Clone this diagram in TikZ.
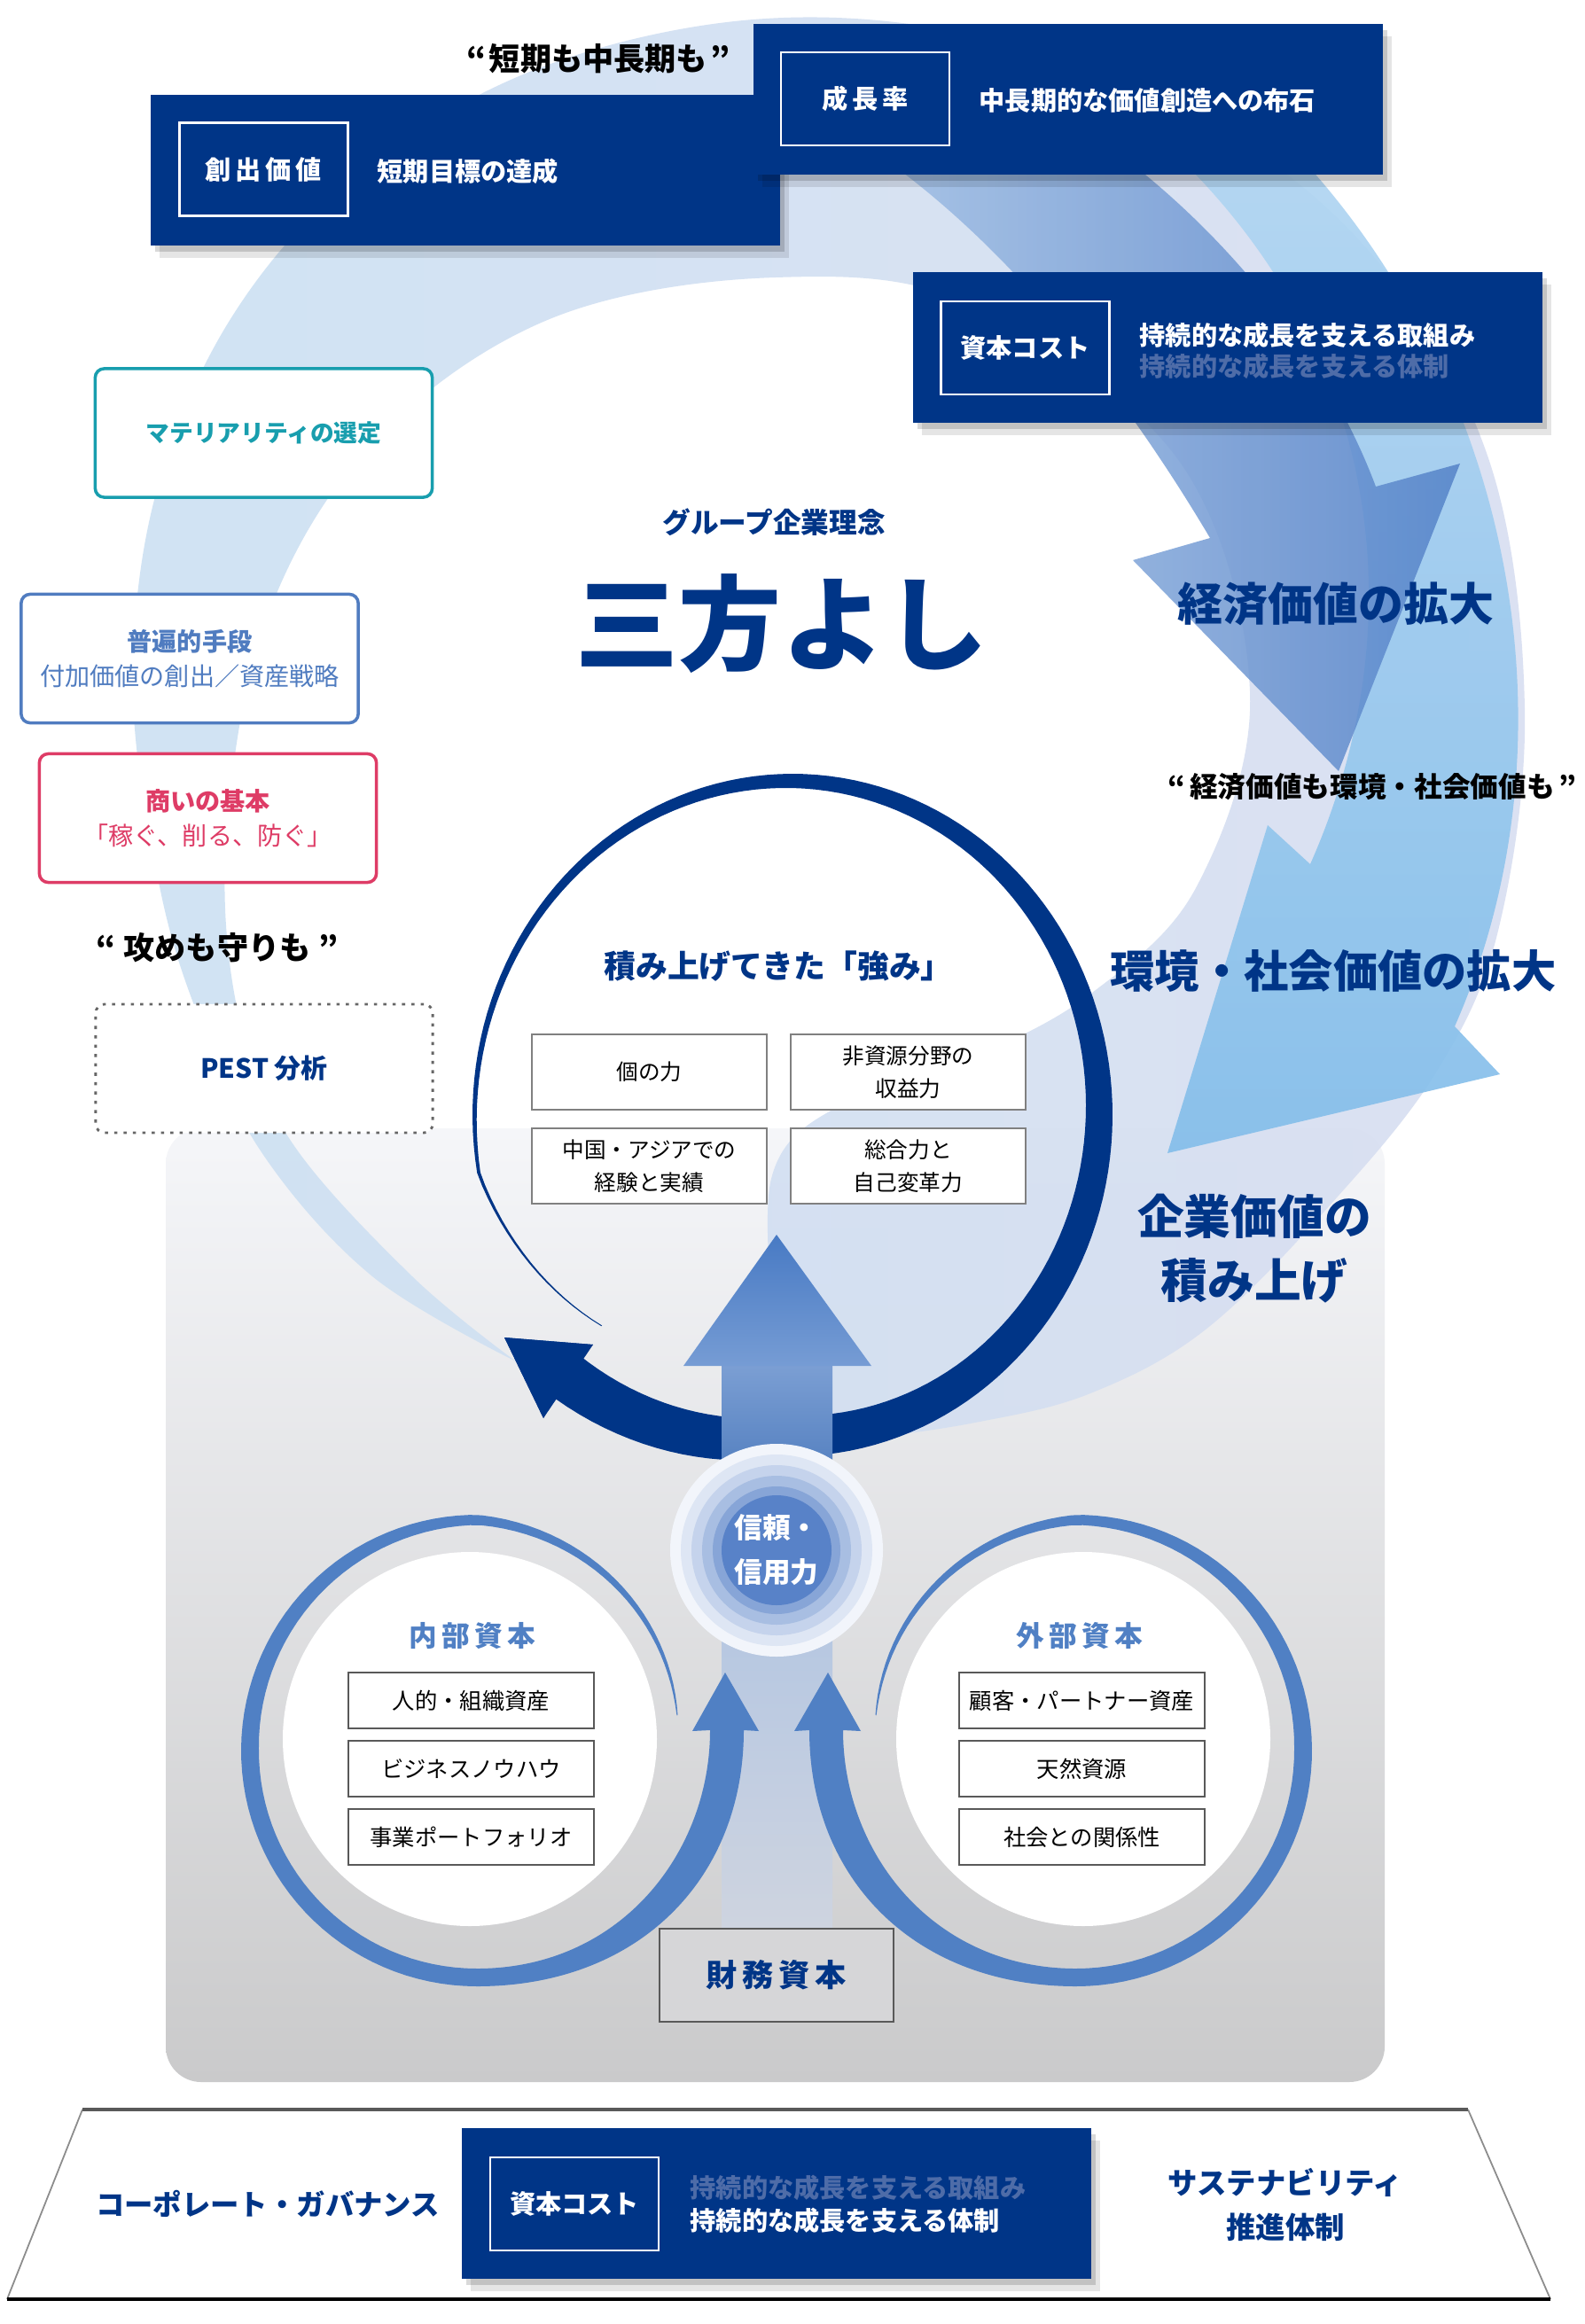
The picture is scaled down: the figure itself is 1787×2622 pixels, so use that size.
\documentclass[tikz,border=0pt]{standalone}
\usepackage{fontspec}
\setmainfont{Noto Sans CJK JP}
\usetikzlibrary{shadows}

\definecolor{navy}{RGB}{0,53,135}
\definecolor{dimtxt}{RGB}{78,108,168}
\definecolor{mattcol}{RGB}{24,158,174}
\definecolor{fuhencol}{RGB}{80,124,192}
\definecolor{akinaicol}{RGB}{222,60,102}
\definecolor{capblue}{RGB}{80,128,196}
\definecolor{trustblue}{RGB}{88,130,200}
\definecolor{paleleft}{RGB}{204,224,242}
\definecolor{paleright}{RGB}{216,222,241}
\definecolor{skytop}{RGB}{178,214,242}
\definecolor{skyarr}{RGB}{132,190,234}
\definecolor{midtail}{RGB}{170,198,232}
\definecolor{midarr}{RGB}{84,130,200}
\definecolor{boxtop}{RGB}{245,246,249}
\definecolor{boxbot}{RGB}{202,202,203}
\definecolor{upA}{RGB}{125,160,212}
\definecolor{upB}{RGB}{55,105,178}
\definecolor{upC}{RGB}{176,196,226}
\definecolor{upD}{RGB}{206,212,224}
\definecolor{upHeadT}{RGB}{72,122,196}
\definecolor{upHeadB}{RGB}{118,156,212}

\newcommand\jf[2]{\fontsize{#1}{#2}\selectfont}

\tikzset{
  navybox/.style={fill=navy, inner sep=0pt, minimum width=7.1cm, minimum height=1.7cm,
    drop shadow={shadow xshift=0.1cm, shadow yshift=-0.14cm, opacity=0.10, fill=black},
    drop shadow={shadow xshift=0.05cm, shadow yshift=-0.07cm, opacity=0.15, fill=black}},
  keybox/.style={draw=white, line width=0.8pt, text=white, inner sep=0pt,
    minimum width=1.9cm, minimum height=1.05cm, font=\bfseries\jf{8.3}{10}},
  keytxt/.style={anchor=west, text=white, inner sep=0pt, font=\bfseries\jf{8.3}{10}},
  sidebox/.style={rounded corners=0.1cm, line width=1pt, fill=white, inner sep=0pt,
    minimum width=3.8cm, minimum height=1.45cm, align=center},
  strbox/.style={draw=black!50, line width=0.5pt, fill=white, inner sep=0pt,
    minimum width=2.65cm, minimum height=0.85cm, align=center, font=\jf{7}{10.5}},
  capbox/.style={draw=black!65, line width=0.5pt, fill=white, inner sep=0pt,
    minimum width=2.77cm, minimum height=0.63cm, font=\jf{7.2}{9}},
  bigtxt/.style={text=navy, font=\bfseries\jf{14.5}{20.5}, align=center},
  quotetxt/.style={text=black, font=\bfseries\jf{9.5}{11}},
}

\begin{document}
\begin{tikzpicture}[x=0.01cm, y=-0.01cm,
  declare function={
    nf(\q)=1-0.14*max(0,(170-\q)/36)+0.12*max(0,(\q-450)/44);
    nw(\q)=1+45*pow(max(0.001,min(1,(\q-134)/316)),1.3)+10*max(0,(\q-450)/44);
    cr(\q)=266-36*max(0,(\q+90)/80);
    cw(\q)=1+19*pow(max(0.001,min(1,(-10-\q)/170)),0.8);}]
\useasboundingbox (0,0) rectangle (1787,2622);
\fill[white] (0,0) rectangle (1787,2622);

% grey base
\shade[top color=boxtop, bottom color=boxbot, rounded corners=0.4cm] (187,1273) rectangle (1562,2349);

% pale swirl
\shade[left color=paleleft, right color=paleright, opacity=0.9] plot[smooth, tension=0.6] coordinates {(582,1536) (420,1440) (295,1300) (225,1150) (180,1000) (150,780) (175,560) (260,360) (400,200) (600,80) (850,22) (1100,40) (1350,130) (1550,290) (1680,520) (1720,800) (1690,1050) (1620,1210) (1500,1360) (1360,1500) (1230,1572) (1100,1605) (960,1625) (880,1630)}
  -- plot[smooth, tension=0.6] coordinates {(880,1560) (870,1330) (960,1240) (1100,1192) (1232,1120) (1350,1000) (1410,780) (1330,520) (1100,345) (875,313) (620,360) (420,500) (300,700) (255,950) (270,1150) (330,1290) (465,1440) (582,1536)} -- cycle;

% arrows on the right
\shade[top color=skytop, bottom color=skyarr, opacity=0.92] (1300,150) .. controls (1560,380) and (1600,700) .. (1478,975) -- (1430,931) -- (1317,1301) -- (1692,1212) -- (1641,1158) .. controls (1790,820) and (1700,400) .. (1430,140) -- cycle;
\shade[left color=midtail, right color=midarr, opacity=0.85] (900,120) .. controls (1100,220) and (1260,430) .. (1365,607) -- (1278,632) -- (1510,870) -- (1647,523) -- (1552,549) .. controls (1470,330) and (1250,110) .. (1000,40) -- cycle;

% navy ring
\fill[navy] plot[domain=134:494, samples=160, variable=\q] ({894+361*nf(\q)*cos(\q)},{1258+385*nf(\q)*sin(\q)})
  -- (669,1517) -- (569,1509) -- (613,1600)
  -- plot[domain=494:134, samples=160, variable=\q] ({894+(361*nf(\q)-nw(\q))*cos(\q)},{1258+(385*nf(\q)-nw(\q))*sin(\q)}) -- cycle;
\fill[navy] (569,1509) -- (669,1517) -- (613,1600) -- cycle;

% upward arrow
\shade[top color=upA, bottom color=upB] (814,1535) rectangle (939,1749);
\shade[top color=upC, bottom color=upD] (814,1749) rectangle (939,2176);
\shade[top color=upHeadT, bottom color=upHeadB] (876,1393) -- (983,1541) -- (771,1541) -- cycle;

% trust circle
\coordinate (trust) at (876,1749);
\foreach \rad/\pc in {120/8, 108/20, 96/35, 84/52, 72/72, 62/100}
  \fill[trustblue!\pc!white] (trust) circle[radius=\rad];
\node[text=white, font=\bfseries\jf{9}{14.2}, align=left] (shinrai) at (trust) {信頼・\\信用力};

% capital rings
\foreach \m/\sh in {1/0,-1/1752}{
\begin{scope}[shift={(\sh,0)}, xscale=\m]
  \fill[white] (530,1962) circle[radius=211];
  \fill[capblue] plot[domain=-10:-270, samples=90, variable=\q] ({538+cr(\q)*cos(\q)},{1975+cr(\q)*sin(\q)})
    .. controls (720,2241) and (839,2120) .. (839,1952) -- (856,1953) -- (818,1887) -- (781,1953) -- (801,1952)
    .. controls (801,2090) and (700,2221) .. (538,2221)
    -- plot[domain=-270:-10, samples=90, variable=\q] ({538+(cr(\q)-cw(\q))*cos(\q)},{1975+(cr(\q)-cw(\q))*sin(\q)}) -- cycle;
\end{scope}}

% capital texts
\node[text=capblue, font=\bfseries\jf{9}{11}] (naibu) at (533,1846) {内\,部\,資\,本};
\node[text=capblue, font=\bfseries\jf{9}{11}] (gaibu) at (1218,1846) {外\,部\,資\,本};
\node[capbox] (jinteki) at (531.5,1918.5) {人的・組織資産};
\node[capbox] (knowhow) at (531.5,1995.5) {ビジネスノウハウ};
\node[capbox] (pf) at (531.5,2072.5) {事業ポートフォリオ};
\node[capbox] (kokyaku) at (1220.5,1918.5) {顧客・パートナー資産};
\node[capbox] (tennen) at (1220.5,1995.5) {天然資源};
\node[capbox] (shakai) at (1220.5,2072.5) {社会との関係性};
\node[draw=black!65, line width=0.5pt, fill={rgb,255:red,214;green,214;blue,216}, minimum width=2.64cm, minimum height=1.05cm, text=navy, font=\bfseries\jf{10}{12}] (zaimu) at (876,2228.5) {財\,務\,資\,本};

% top boxes
\node[navybox] (sozo) at (525,192) {};
\node[keybox] (sozokey) at (297.5,191) {創\,出\,価\,値};
\node[keytxt] (sozotxt) at (425,193) {短期目標の達成};
\node[navybox] (seicho) at (1205,112) {};
\node[keybox] (seichokey) at (976,111.5) {成\,長\,率};
\node[keytxt] (seichotxt) at (1104,113) {中長期的な価値創造への布石};
\node[quotetxt, font=\bfseries\jf{10}{12}] (tanki) at (675,66) {“\hspace{0.1em}短期も中長期も\hspace{0.1em}”};
\node[navybox] (cost) at (1385,392) {};
\node[keybox] (costkey) at (1156.5,392.5) {資本コスト};
\node[keytxt] (costtxt1) at (1285,378) {持続的な成長を支える取組み};
\node[keytxt, text=dimtxt] (costtxt2) at (1285,413) {持続的な成長を支える体制};

% left boxes
\node[sidebox, draw=mattcol, text=mattcol, font=\bfseries\jf{7.6}{10}] (matter) at (297.5,488.5) {マテリアリティの選定};
\node[sidebox, draw=fuhencol, text=fuhencol, font=\jf{8}{11}] (fuhen) at (214,743) {{\bfseries 普遍的手段}\\付加価値の創出／資産戦略};
\node[sidebox, draw=akinaicol, text=akinaicol, font=\jf{8}{11}] (akinai) at (234.5,923) {{\bfseries 商いの基本}\\「稼ぐ、削る、防ぐ」};
\node[quotetxt, font=\bfseries\jf{10}{12}] (semeru) at (245,1069) {“\hspace{0.25em}攻めも守りも\hspace{0.25em}”};
\node[sidebox, draw=black!60, dotted, line width=0.8pt, text=navy, font=\bfseries\jf{8.5}{10}] (pest) at (298,1205.5) {PEST 分析};

% centre
\node[text=navy, font=\bfseries\jf{9}{11}] (rinen) at (873,589) {グループ企業理念};
\node[text=navy, font=\bfseries\jf{33}{36}] (sanpo) at (882,704) {三方よし};
\node[text=navy, font=\bfseries\jf{10.2}{12}] (tsuyomi) at (878,1090) {積み上げてきた「強み」};
\node[strbox] (ko) at (732.5,1209.5) {個の力};
\node[strbox] (hishigen) at (1024.5,1209.5) {非資源分野の\\収益力};
\node[strbox] (asia) at (732.5,1315.5) {中国・アジアでの\\経験と実績};
\node[strbox] (sogo) at (1024.5,1315.5) {総合力と\\自己変革力};

% right texts
\node[bigtxt] (keizai) at (1507,681) {経済価値の拡大};
\node[quotetxt, font=\bfseries\jf{9}{11}] (keizaiq) at (1548,888) {“\hspace{0.15em}経済価値も環境・社会価値も\hspace{0.15em}”};
\node[bigtxt, font=\bfseries\jf{14.3}{20}] (kankyo) at (1504,1095) {環境・社会価値の拡大};
\node[bigtxt, font=\bfseries\jf{15}{20.5}] (kigyo) at (1415,1409) {企業価値の\\積み上げ};

% bottom platform
\fill[white] (93,2380) -- (1656,2380) -- (1749,2594) -- (8,2594) -- cycle;
\draw[black!45, line width=0.5pt] (93,2380) -- (8,2594) (1656,2380) -- (1749,2594);
\draw[black!65, line width=1.2pt] (93,2380) -- (1656,2380);
\draw[black, line width=1pt] (8,2594) -- (1749,2594);
\node[navybox] (costb) at (876,2486) {};
\node[keybox] (costbkey) at (648,2486.5) {資本コスト};
\node[keytxt, text=dimtxt] (costbtxt1) at (778,2468) {持続的な成長を支える取組み};
\node[keytxt] (costbtxt2) at (778,2505) {持続的な成長を支える体制};
\node[text=navy, font=\bfseries\jf{9.2}{11}] (gov) at (302,2486) {コーポレート・ガバナンス};
\node[text=navy, font=\bfseries\jf{9.5}{14}, align=center] (sus) at (1450,2487.5) {サステナビリティ\\推進体制};
\end{tikzpicture}
\end{document}
